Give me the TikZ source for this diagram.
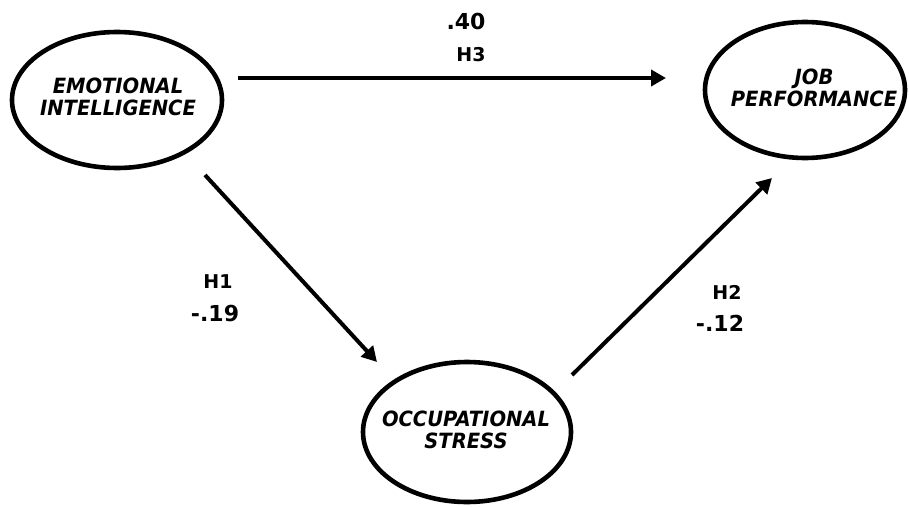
\documentclass[tikz,border=0pt]{standalone}
\usepackage{fontspec}
\setmainfont{DejaVu Sans}
\newfontfamily\ellfont[FakeStretch=0.93]{DejaVu Sans}
\usetikzlibrary{arrows.meta,shapes.geometric}
\begin{document}
\begin{tikzpicture}[x=1pt,y=-1pt,
  construct/.style={draw=black,line width=4.6pt,ellipse,minimum width=#1},
  ctext/.style={font=\ellfont\bfseries\itshape\fontsize{21}{22}\selectfont,align=center},
  path/.style={line width=4pt,-{Triangle[length=15pt,width=16pt]}},
  hyp/.style={font=\bfseries\fontsize{19}{21}\selectfont},
  coef/.style={font=\bfseries\fontsize{22}{24}\selectfont}]
\useasboundingbox (0,0) rectangle (909,506);
\node[construct=210pt,minimum height=136pt] (ei) at (117,100) {};
\node[construct=200pt,minimum height=136pt] (jp) at (805,90) {};
\node[construct=208pt,minimum height=140pt] (os) at (467,432) {};
\node[ctext] (eit) at (118,97) {EMOTIONAL\\INTELLIGENCE};
\node[ctext] (jpt) at (814,88) {JOB\\PERFORMANCE};
\node[ctext] (ost) at (466,430) {OCCUPATIONAL\\STRESS};
\coordinate (a1) at (238,78);
\coordinate (a2) at (666,78);
\coordinate (b1) at (205,175);
\coordinate (b2) at (377,362);
\coordinate (c1) at (572,375);
\coordinate (c2) at (772,178);
\draw[path] (a1) -- (a2);
\draw[path] (b1) -- (b2);
\draw[path] (c1) -- (c2);
\node[coef] (l40) at (466,21) {.40};
\node[hyp] (lh3) at (471,55) {H3};
\node[hyp] (lh1) at (218,282) {H1};
\node[coef] (l19) at (215,313) {-.19};
\node[hyp] (lh2) at (727,292) {H2};
\node[coef] (l12) at (720,323) {-.12};
\end{tikzpicture}
\end{document}
